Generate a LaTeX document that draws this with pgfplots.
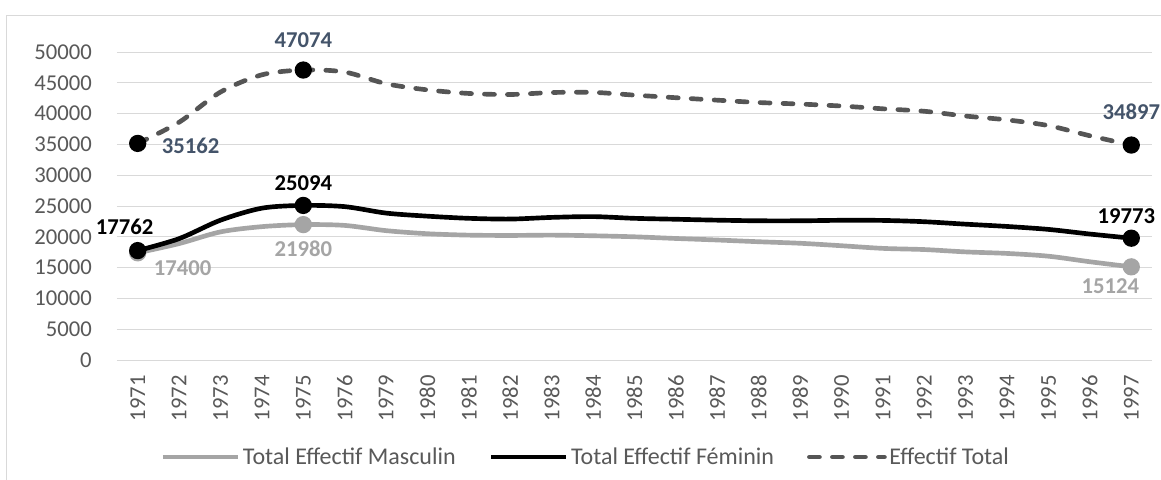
\documentclass[border=0pt]{standalone}
\usepackage{fontspec}
\setmainfont{Carlito}
\usepackage{pgfplots}
\pgfplotsset{compat=1.18}
\usepackage{pgfplotstable}
\definecolor{mgray}{HTML}{A5A5A5}
\definecolor{tgray}{HTML}{595959}
\definecolor{gridc}{HTML}{D9D9D9}
\definecolor{lblue}{HTML}{44546A}
\definecolor{dgray}{HTML}{555555}

\pgfplotstableread{
x M F T
0 17400 17762 35162
1 18900 19700 38600
2 20800 22700 43500
3 21650 24650 46300
4 21980 25094 47074
5 21850 24900 46750
6 21000 23850 44850
7 20500 23350 43850
8 20270 23000 43270
9 20220 22880 43100
10 20270 23150 43420
11 20170 23280 43450
12 20000 23000 43000
13 19730 22850 42580
14 19480 22700 42180
15 19200 22600 41800
16 18950 22600 41550
17 18550 22680 41230
18 18120 22660 40780
19 17930 22450 40380
20 17550 22050 39600
21 17300 21680 38980
22 16850 21200 38050
23 15950 20450 36400
24 15124 19773 34897
}\data

\newcommand{\fs}{\fontsize{17}{20}\selectfont}
\newcommand{\fl}{\fontsize{18}{21}\selectfont}

\begin{document}
\begin{tikzpicture}[font=\fs]
\useasboundingbox (0,0) rectangle (870.75pt,-359.25pt);
\fill[white] (0,0) rectangle (870.75pt,-359.25pt);
\draw[gridc, line width=0.75pt] (4.5pt,-400pt) -- (4.5pt,-11.25pt) -- (900pt,-11.25pt);
\begin{axis}[
  at={(87.75pt,-270pt)}, anchor=south west,
  scale only axis, width=776.25pt, height=231pt,
  xmin=-0.5, xmax=24.5, ymin=0, ymax=50000,
  xtick={0,...,24},
  xticklabels={1971,1972,1973,1974,1975,1976,1979,1980,1981,1982,1983,1984,1985,1986,1987,1988,1989,1990,1991,1992,1993,1994,1995,1996,1997},
  ytick={0,5000,...,50000},
  scaled y ticks=false,
  axis line style={draw=none},
  major tick length=0pt,
  ymajorgrids, grid style={gridc, line width=0.75pt},
  tick label style={font=\fs, text=tgray},
  xticklabel style={rotate=90, anchor=east, inner sep=0pt},
  yticklabel style={anchor=east, inner sep=0pt},
  xticklabel shift=11.25pt,
  yticklabel shift=18.75pt,
  /pgf/number format/1000 sep={},
  /pgf/number format/assume math mode=true,
  clip=false,
  legend columns=3,
  legend style={draw=none, fill=none, at={(0.452,-0.315)}, anchor=center,
    font=\fl, text=tgray, nodes={inner sep=0pt},
    /tikz/every odd column/.append style={column sep=2pt},
    /tikz/every even column/.append style={column sep=24.75pt}},
  legend image code/.code={\draw[#1] (0pt,0pt) -- (56.25pt,0pt);},
]
\addplot[mgray, line width=3.5pt, smooth, tension=0.5, mark=*, mark size=4.7pt,
  mark indices={1,5,25}, mark options={fill=mgray, draw=mgray}] table[x=x,y=M]{\data};
\addlegendentry{Total Effectif Masculin}
\addplot[black, line width=3.5pt, smooth, tension=0.5, mark=*, mark size=4.7pt,
  mark indices={1,5,25}, mark options={fill=black, draw=black}] table[x=x,y=F]{\data};
\addlegendentry{Total Effectif Féminin}
\addplot[dgray, line width=3.5pt, smooth, tension=0.5, line cap=round,
  dash pattern=on 7.5pt off 9.75pt, mark=*, mark size=4.7pt,
  mark indices={1,5,25}, mark options={fill=black, draw=black, solid}] table[x=x,y=T]{\data};
\addlegendentry{Effectif Total}

\node[font=\fs\bfseries, text=lblue, xshift=39.75pt, yshift=-1.5pt] at (axis cs:0,35162) {35162};
\node[font=\fs\bfseries, text=lblue, yshift=22.5pt] at (axis cs:4,47074) {47074};
\node[font=\fs\bfseries, text=lblue, yshift=24.75pt] at (axis cs:24,34897) {34897};
\node[font=\fs\bfseries, text=black, xshift=-9.75pt, yshift=18pt] at (axis cs:0,17762) {17762};
\node[font=\fs\bfseries, text=black, yshift=16.5pt] at (axis cs:4,25094) {25094};
\node[font=\fs\bfseries, text=black, xshift=-3.75pt, yshift=16.5pt] at (axis cs:24,19773) {19773};
\node[font=\fs\bfseries, text=mgray, xshift=33.75pt, yshift=-11.25pt] at (axis cs:0,17400) {17400};
\node[font=\fs\bfseries, text=mgray, yshift=-18pt] at (axis cs:4,21980) {21980};
\node[font=\fs\bfseries, text=mgray, xshift=-15.75pt, yshift=-14.25pt] at (axis cs:24,15124) {15124};
\end{axis}
\end{tikzpicture}
\end{document}
